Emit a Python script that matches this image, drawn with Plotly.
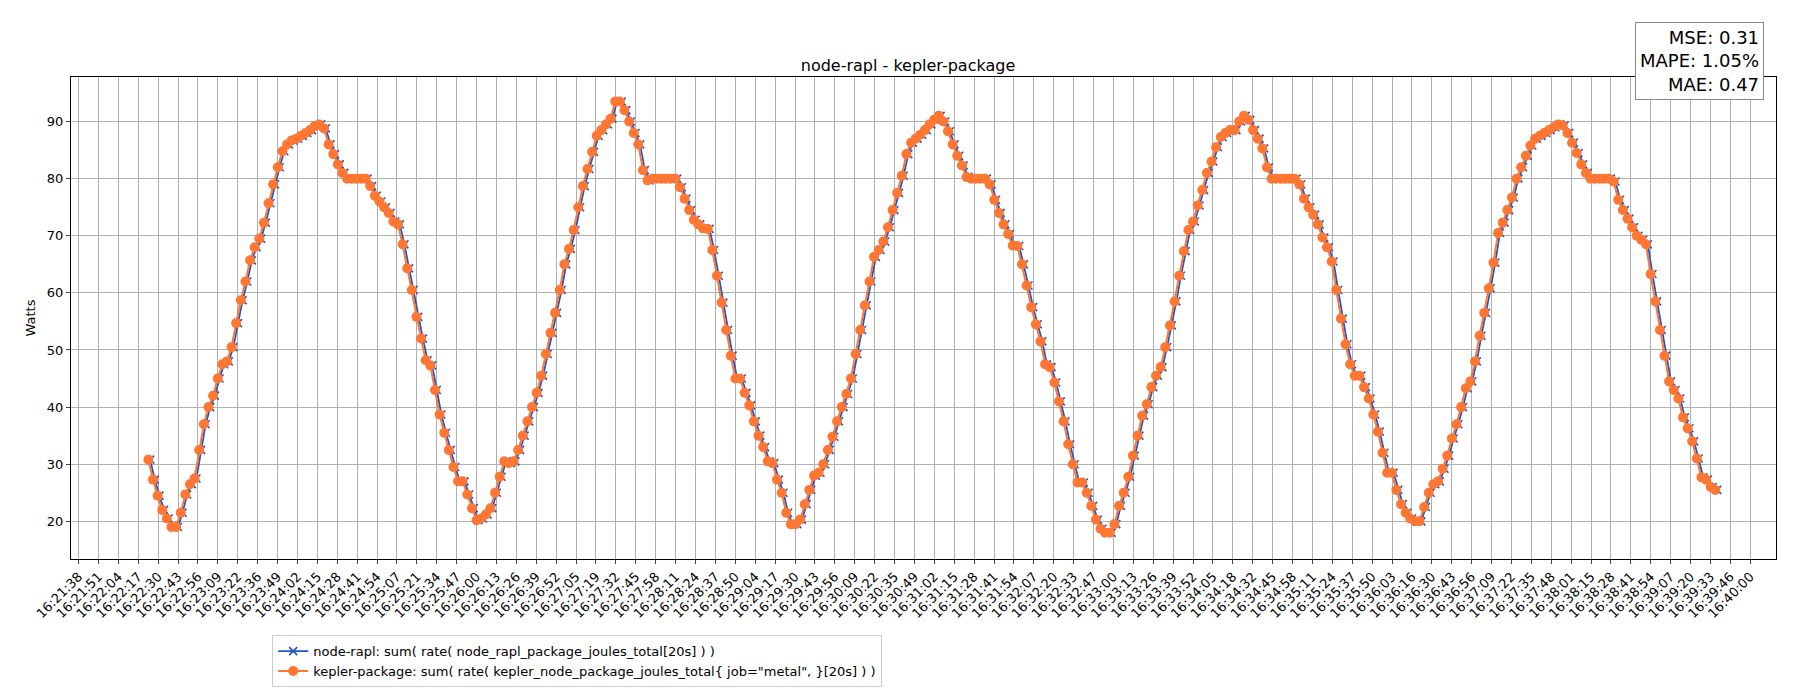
import datetime as dt
import math
import plotly.graph_objects as go

kepler_values = [
30.8, 27.3, 24.5, 22, 20.5, 19, 19, 21.5, 24.7, 26.5, 27.5, 32.5, 37, 40, 42, 45, 47.5, 48, 50.5, 54.7,
58.7, 62, 65.7, 68, 69.5, 72.3, 75.7, 79, 82, 84.8, 86, 86.7, 87, 87.5, 88, 88.5, 89.2, 89.5, 88.8, 86,
84.3, 82.5, 81, 80, 80, 80, 80, 80, 78.7, 77, 76, 75, 74, 72.5, 72, 68.5, 64.3, 60.5, 55.8, 52,
48.2, 47.3, 43, 38.7, 35.5, 32.5, 29.5, 27, 27, 24.7, 22.3, 20.2, 20.5, 21.2, 22.3, 25, 27.8, 30.5, 30.2, 30.5,
32.5, 35, 37.5, 40, 42.5, 45.5, 49.3, 53, 56.5, 60.5, 65, 67.7, 71, 75, 78.7, 81.7, 84.7, 87.5, 88.5, 89.5,
90.5, 93.5, 93.5, 92, 90, 88, 86, 81.5, 79.7, 80, 80, 80, 80, 80, 80, 78.5, 76.5, 74.5, 72.8, 72,
71.3, 71.2, 67.5, 63, 58.3, 53.5, 49, 45, 45, 42.5, 40.3, 37.5, 35, 33, 30.5, 30.2, 27.3, 25, 21.5, 19.5,
19.5, 20.3, 23, 25.5, 28, 28.5, 30, 32.5, 34.8, 37.5, 40, 42.3, 45, 49.3, 53.5, 57.8, 62, 66.3, 67.5, 69,
71.5, 74.5, 77.5, 80.5, 84.3, 86.3, 87, 87.7, 88.5, 89.5, 90.3, 91, 90, 88.3, 86, 84, 82.3, 80.3, 80, 80,
80, 80, 79, 76.3, 74, 72, 70.3, 68.3, 68.2, 65, 61.3, 57.5, 54.5, 51.5, 47.5, 47, 44.3, 41, 37.5, 33.5,
30, 26.8, 26.8, 25, 22.7, 20.3, 18.7, 18, 18, 19.5, 22.7, 25, 27.8, 31.5, 35, 38.5, 40.5, 43.5, 45.5, 47,
50.5, 54.3, 58.5, 63, 67.3, 71, 72.5, 75.3, 78, 81, 83, 85.5, 87.3, 88, 88.5, 88.5, 90, 91, 90.3, 88.5,
87, 85.3, 82, 80, 80, 80, 80, 80, 80, 79, 76.5, 75, 73.7, 72, 69.7, 68, 65.5, 60.5, 55.5, 51,
47.5, 45.5, 45.5, 43.5, 41.5, 38.7, 35.7, 32, 28.5, 28.5, 25.5, 23, 21.5, 20.5, 20, 20, 22.5, 25, 26.5, 27,
29.2, 31.5, 34.5, 37, 40, 43.3, 44.5, 48, 52.5, 56.5, 60.8, 65.3, 70.5, 72.3, 74.5, 76.7, 80, 82, 84, 85.8,
87, 87.5, 88, 88.5, 89, 89.5, 89.3, 88, 86.3, 84.5, 82.5, 81, 80, 80, 80, 80, 80, 79.5, 76.3, 74.5,
73, 71.5, 70, 69.3, 68.5, 63.3, 58.5, 53.5, 49, 44.5, 43, 41.5, 38.2, 36.3, 34, 31, 27.7, 27.3, 26, 25.5,
]
rapl_values = list(kepler_values)

series_start = "16:22:24"
series_end = "16:39:37"
tick_start = "16:21:38"
tick_end = "16:40:00"
n_ticks = 85
metrics = ["MSE: 0.31", "MAPE: 1.05%", "MAE: 0.47"]

day = dt.date(2024, 1, 1)
def ts(s):
    return dt.datetime.combine(day, dt.time.fromisoformat(s))

t0, t1 = ts(series_start), ts(series_end)
n = len(kepler_values)
step = (t1 - t0).total_seconds() / (n - 1)
times = [t0 + dt.timedelta(seconds=step * i) for i in range(n)]
rapl_times = [t + dt.timedelta(seconds=1.2) for t in times]

k0, k1 = ts(tick_start), ts(tick_end)
kstep = (k1 - k0).total_seconds() / (n_ticks - 1)
tickvals = [k0 + dt.timedelta(seconds=kstep * i) for i in range(n_ticks)]
ticktext = [(k0 + dt.timedelta(seconds=math.floor(kstep * i + 1e-6))).strftime("%H:%M:%S")
            for i in range(n_ticks)]

fig = go.Figure()
fig.add_trace(go.Scatter(
    x=rapl_times, y=rapl_values, mode="lines+markers",
    name="node-rapl: sum( rate( node_rapl_package_joules_total[20s] ) )",
    line=dict(color="#1f55c8", width=1.8),
    marker=dict(symbol="x-thin", size=8, line=dict(color="#1f55c8", width=1.6)),
))
fig.add_trace(go.Scatter(
    x=times, y=kepler_values, mode="lines+markers",
    name='kepler-package: sum( rate( kepler_node_package_joules_total{ job="metal", }[20s] ) )',
    line=dict(color="#ff7733", width=2),
    marker=dict(symbol="circle", size=10, color="#ff7733"),
))

fig.update_layout(
    width=1800, height=700,
    paper_bgcolor="white", plot_bgcolor="white",
    font=dict(family="DejaVu Sans", size=13, color="black"),
    margin=dict(l=63, r=32, t=69, b=149, autoexpand=False),
    title=dict(text="node-rapl - kepler-package", x=0.5, xanchor="center",
               y=1 - 63 / 700, yanchor="bottom", font=dict(size=16)),
    showlegend=True,
    legend=dict(x=0.118, y=-0.158, xanchor="left", yanchor="top",
                bordercolor="#cccccc", borderwidth=1, font=dict(size=13),
                bgcolor="white"),
    xaxis=dict(type="date", range=[ts("16:21:33"), ts("16:40:17")],
               tickmode="array", tickvals=tickvals, ticktext=ticktext,
               tickangle=-45, showgrid=True, gridcolor="#b0b0b0", gridwidth=1,
               showline=True, linecolor="black", mirror=True, ticks="outside",
               ticklen=4, tickfont=dict(size=13), automargin=False),
    yaxis=dict(range=[13.4, 97.8], dtick=10, showgrid=True, gridcolor="#b0b0b0",
               showline=True, linecolor="black", mirror=True, ticks="outside",
               ticklen=4, title=dict(text="Watts", font=dict(size=13), standoff=8),
               zeroline=False, tickfont=dict(size=13), automargin=False),
)
fig.add_annotation(
    xref="paper", yref="paper", x=1 - 12 / 1705, y=1 + 55 / 482,
    xanchor="right", yanchor="top", align="right",
    text="<br>".join(metrics), showarrow=False,
    font=dict(size=18), bordercolor="#888888", borderwidth=1, borderpad=4,
    bgcolor="white",
)
fig.write_html("out.html")
